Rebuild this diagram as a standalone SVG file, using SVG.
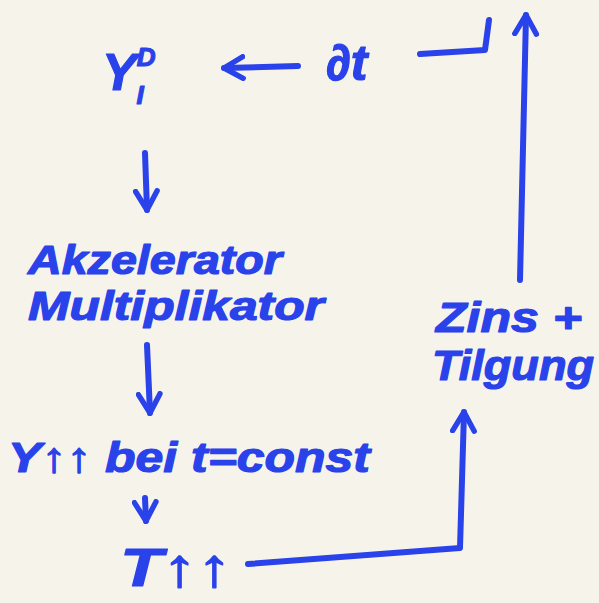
<svg xmlns="http://www.w3.org/2000/svg" width="599" height="603" viewBox="0 0 599 603">
<style>
.t{font-family:"Liberation Sans",Arial,sans-serif;font-style:italic;font-weight:bold;fill:#2a42ea;stroke:#2a42ea;stroke-width:1.2;stroke-linejoin:round}
.c{fill:none;stroke:#2a42ea;stroke-width:6;stroke-linecap:round;stroke-linejoin:round}
</style>
<defs>
<marker id="ah" viewBox="0 0 10 10" refX="8" refY="5" markerWidth="4.5" markerHeight="4.5" orient="auto" markerUnits="strokeWidth">
<path d="M1,1 L8,5 L1,9" fill="none" stroke="#2a42ea" stroke-width="2" stroke-linecap="round" stroke-linejoin="round"/>
</marker>
</defs>
<rect width="599" height="603" fill="#f6f4ea"/>
<g id="node-yid"><text class="t" x="102" y="90" font-size="52">Y<tspan font-size="26" dy="-24">D</tspan><tspan font-size="26" dx="-19" dy="38">I</tspan></text></g>
<g id="node-dt"><text class="t" x="326" y="80" font-size="50">∂t</text></g>
<g id="node-akz"><text class="t" x="28" y="274" font-size="40" textLength="254" lengthAdjust="spacingAndGlyphs">Akzelerator</text><text class="t" x="28" y="320" font-size="40" textLength="296" lengthAdjust="spacingAndGlyphs">Multiplikator</text></g>
<g id="node-y"><text class="t" x="8" y="472" font-size="42" textLength="362" lengthAdjust="spacingAndGlyphs">Y↑↑  bei t=const</text></g>
<g id="node-t"><text class="t" x="120" y="586" font-size="54" textLength="112" lengthAdjust="spacingAndGlyphs">T↑↑</text></g>
<g id="node-zins"><text class="t" x="436" y="332" font-size="42" textLength="146" lengthAdjust="spacingAndGlyphs">Zins +</text><text class="t" x="432" y="380" font-size="42" textLength="162" lengthAdjust="spacingAndGlyphs">Tilgung</text></g>
<g id="connectors">
<path class="c" d="M298,66 L224,68" marker-end="url(#ah)"/>
<path class="c" d="M420,54 L485,50 L489,20"/>
<path class="c" d="M520,280 L526,15" marker-end="url(#ah)"/>
<path class="c" d="M145,153 L147,210" marker-end="url(#ah)"/>
<path class="c" d="M147,345 L150,413" marker-end="url(#ah)"/>
<path class="c" d="M145,498 L146,521" marker-end="url(#ah)"/>
<path class="c" d="M248,564 L460,548 L464,412" marker-end="url(#ah)"/>
</g>
</svg>
